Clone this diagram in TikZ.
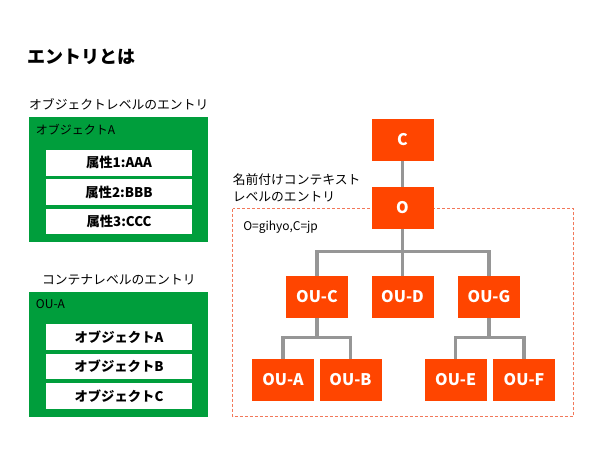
\documentclass[tikz,border=0pt]{standalone}
\usepackage{fontspec}
\setmainfont{Noto Sans CJK JP}
\usetikzlibrary{positioning}
\definecolor{entgreen}{RGB}{0,158,60}
\definecolor{entorange}{RGB}{255,69,0}
\definecolor{dashorange}{RGB}{242,120,90}
\definecolor{linkgray}{RGB}{150,150,150}

\begin{document}
\begin{tikzpicture}[
    x=0.75pt, y=-0.75pt,
    node distance = 2.5pt,
    title/.style = {font=\fontsize{13.5}{16}\selectfont\bfseries, anchor=west, inner sep=0pt},
    caption/.style = {font=\fontsize{9.6}{12.75}\selectfont, inner sep=0pt, align=left},
    container/.style = {rectangle, fill=entgreen, minimum width=134.25pt, minimum height=93.75pt},
    header/.style = {font=\fontsize{9}{11}\selectfont, anchor=west, inner sep=0pt},
    attrbox/.style = {
        rectangle, fill=white, minimum width=110pt, minimum height=19.1pt,
        inner sep=0pt, font=\fontsize{10}{12}\selectfont\bfseries
    },
    entry/.style = {
        rectangle, fill=entorange, text=white, minimum width=46.5pt,
        minimum height=31.5pt, font=\fontsize{12}{14}\selectfont\bfseries
    },
    link/.style = {draw=linkgray, line width=2.6pt},
    scopebox/.style = {draw=dashorange, dash pattern=on 2.25pt off 1.5pt, line width=0.75pt},
]
\useasboundingbox (0,0) rectangle (600,450);

\node[title] (ttl) at (27,57) {エントリとは};

% object level
\node[container] (objbox) at (118.8,179.8) {};
\node[caption, above=5pt of objbox] (objcap) {オブジェクトレベルのエントリ};
\node[header] (objhd) at (35.7,130) {オブジェクトA};
\node[attrbox] (attr1) at (119,162.8) {属性1:AAA};
\node[attrbox, below=of attr1] (attr2) {属性2:BBB};
\node[attrbox, below=of attr2] (attr3) {属性3:CCC};

% container level
\node[container] (oubox) at (118.8,354.8) {};
\node[caption, above=5pt of oubox] (oucap) {コンテナレベルのエントリ};
\node[header] (ouhd) at (35.7,304) {OU-A};
\node[attrbox] (obja) at (119,337.2) {オブジェクトA};
\node[attrbox, below=of obja] (objb) {オブジェクトB};
\node[attrbox, below=of objb] (objc) {オブジェクトC};

% naming context
\draw[scopebox] (232.7,208.7) rectangle (573.3,416.7);
\node[caption, anchor=west] (nccap) at (232.5,187.5) {名前付けコンテキスト\\レベルのエントリ};
\node[header] (ncdn) at (243,227) {O=gihyo,C=jp};

\node[entry] (c) at (402.5,140) {C};
\node[entry] (o) at (402.5,208) {O};
\node[entry] (ouc) at (317,297) {OU-C};
\node[entry] (oud) at (402.5,297) {OU-D};
\node[entry] (oug) at (489,297) {OU-G};
\node[entry] (oua) at (283,380) {OU-A};
\node[entry] (oub) at (350.5,380) {OU-B};
\node[entry] (oue) at (455.7,380) {OU-E};
\node[entry] (ouf) at (524,380) {OU-F};

\coordinate (j1) at (402.5,251.7);
\coordinate (j2) at (317,337.7);
\coordinate (j3) at (489,337.7);

\draw[link] (c) -- (o);
\draw[link] (o) -- (j1);
\draw[link] (j1) -- (oud);
\draw[link] (ouc.north) |- (j1) -| (oug.north);
\draw[link] (ouc) -- (j2);
\draw[link] (oua.north) |- (j2) -| (oub.north);
\draw[link] (oug) -- (j3);
\draw[link] (oue.north) |- (j3) -| (ouf.north);

\end{tikzpicture}
\end{document}
